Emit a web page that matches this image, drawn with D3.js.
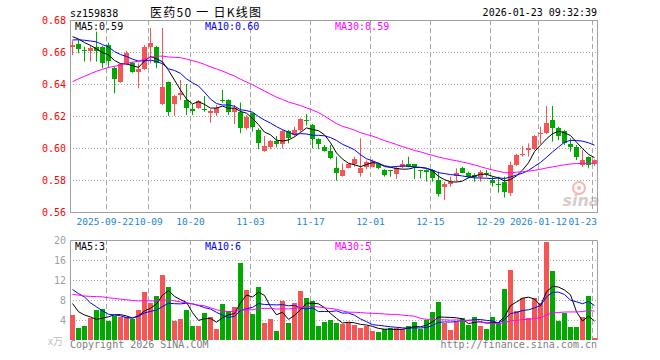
<!DOCTYPE html>
<html><head><meta charset="utf-8">
<script src="https://cdn.jsdelivr.net/npm/d3@7"></script>
<style>html,body{margin:0;padding:0;background:#fff;}svg{display:block;}</style>
</head><body><svg id="c" width="660" height="360"></svg>
<script>
const dates = [
"2025-09-12","2025-09-15","2025-09-16","2025-09-17","2025-09-18","2025-09-19","2025-09-22","2025-09-23","2025-09-24","2025-09-25","2025-09-26","2025-09-29","2025-09-30",
"2025-10-09","2025-10-10","2025-10-13","2025-10-14","2025-10-15","2025-10-16","2025-10-17","2025-10-20","2025-10-21","2025-10-22","2025-10-23","2025-10-24","2025-10-27","2025-10-28","2025-10-29","2025-10-30","2025-10-31",
"2025-11-03","2025-11-04","2025-11-05","2025-11-06","2025-11-07","2025-11-10","2025-11-11","2025-11-12","2025-11-13","2025-11-14","2025-11-17","2025-11-18","2025-11-19","2025-11-20","2025-11-21","2025-11-24","2025-11-25","2025-11-26","2025-11-27","2025-11-28",
"2025-12-01","2025-12-02","2025-12-03","2025-12-04","2025-12-05","2025-12-08","2025-12-09","2025-12-10","2025-12-11","2025-12-12","2025-12-15","2025-12-16","2025-12-17","2025-12-18","2025-12-19","2025-12-22","2025-12-23","2025-12-24","2025-12-25","2025-12-26","2025-12-29","2025-12-30","2025-12-31",
"2026-01-05","2026-01-06","2026-01-07","2026-01-08","2026-01-09","2026-01-12","2026-01-13","2026-01-14","2026-01-15","2026-01-16","2026-01-19","2026-01-20","2026-01-21","2026-01-22","2026-01-23"];

const open = [0.6629,0.6648,0.6613,0.6608,0.6633,0.6629,0.6644,0.6502,0.6415,0.6523,0.6533,0.6477,0.6494,0.6633,0.6633,0.6275,0.6415,0.6275,0.6331,0.6300,
0.6244,0.6248,0.6244,0.6217,0.6217,0.6300,0.6300,0.6227,0.6227,0.6123,0.6217,0.6113,0.5983,0.6008,0.6046,0.6025,0.6106,0.6081,0.6113,0.6175,
0.6144,0.6056,0.6008,0.5983,0.5877,0.5825,0.5877,0.5898,0.5846,0.5879,0.5883,0.5898,0.5863,0.5863,0.5835,0.5879,0.5898,0.5898,0.5863,0.5863,
0.5863,0.5800,0.5754,0.5775,0.5827,0.5877,0.5842,0.5831,0.5821,0.5842,0.5800,0.5775,0.5790,0.5717,0.5894,0.5956,0.5988,0.5992,0.6088,0.6096,
0.6175,0.6123,0.6106,0.6025,0.6008,0.5894,0.5942,0.5900];
const high = [0.6671,0.6675,0.6633,0.6644,0.6727,0.6637,0.6658,0.6508,0.6529,0.6608,0.6540,0.6529,0.6644,0.6750,0.6638,0.6750,0.6415,0.6331,0.6425,0.6400,
0.6275,0.6300,0.6325,0.6242,0.6269,0.6363,0.6304,0.6269,0.6284,0.6206,0.6221,0.6123,0.6075,0.6050,0.6075,0.6113,0.6113,0.6133,0.6186,0.6213,
0.6150,0.6061,0.6019,0.6019,0.5946,0.5904,0.5904,0.5946,0.6061,0.5921,0.5929,0.5908,0.5867,0.5863,0.5883,0.5925,0.5946,0.5898,0.5863,0.5867,
0.5867,0.5852,0.5790,0.5821,0.5873,0.5883,0.5852,0.5842,0.5863,0.5863,0.5821,0.5821,0.5821,0.5915,0.5963,0.6013,0.6029,0.6081,0.6133,0.6263,
0.6263,0.6133,0.6113,0.6061,0.6019,0.5988,0.5946,0.5929];
const low = [0.6581,0.6592,0.6540,0.6540,0.6540,0.6498,0.6504,0.6342,0.6408,0.6519,0.6471,0.6373,0.6488,0.6529,0.6498,0.6269,0.6200,0.6200,0.6300,0.6206,
0.6206,0.6244,0.6227,0.6158,0.6200,0.6284,0.6206,0.6150,0.6092,0.6113,0.6102,0.5992,0.5977,0.5992,0.6004,0.5998,0.6029,0.6071,0.6102,0.6140,
0.5998,0.5992,0.5977,0.5929,0.5796,0.5821,0.5873,0.5883,0.5821,0.5867,0.5879,0.5867,0.5821,0.5821,0.5806,0.5873,0.5879,0.5806,0.5810,0.5790,
0.5790,0.5696,0.5675,0.5758,0.5790,0.5842,0.5810,0.5790,0.5790,0.5821,0.5758,0.5721,0.5690,0.5700,0.5888,0.5946,0.5946,0.5988,0.6025,0.6088,
0.6040,0.6050,0.6019,0.5977,0.5925,0.5883,0.5873,0.5888];
const close = [0.6644,0.6617,0.6606,0.6623,0.6606,0.6529,0.6546,0.6431,0.6523,0.6596,0.6477,0.6492,0.6633,0.6658,0.6529,0.6383,0.6227,0.6325,0.6346,0.6248,
0.6233,0.6296,0.6238,0.6233,0.6248,0.6294,0.6227,0.6248,0.6127,0.6192,0.6133,0.6029,0.6015,0.6044,0.6025,0.6106,0.6061,0.6113,0.6181,0.6167,
0.6056,0.6025,0.5983,0.5935,0.5846,0.5863,0.5898,0.5933,0.5877,0.5913,0.5921,0.5877,0.5831,0.5854,0.5877,0.5898,0.5883,0.5879,0.5856,0.5852,
0.5815,0.5713,0.5775,0.5790,0.5842,0.5846,0.5821,0.5821,0.5852,0.5838,0.5783,0.5769,0.5727,0.5894,0.5956,0.5963,0.5998,0.6075,0.6096,0.6154,
0.6123,0.6075,0.6029,0.6008,0.5946,0.5925,0.5894,0.5925];
const volume = [5.0,2.4,2.8,4.4,6.0,6.2,3.8,4.8,4.6,4.6,4.2,6.0,9.6,7.4,8.8,13.0,10.6,3.8,4.2,6.0,
2.8,2.8,5.4,4.6,2.2,7.2,5.8,6.6,15.4,10.0,5.2,10.6,3.4,4.2,1.8,7.8,3.4,7.4,9.8,8.4,
7.8,2.8,3.6,4.0,3.4,3.2,3.6,3.0,2.4,2.8,1.8,1.6,2.2,2.4,2.4,2.2,2.8,3.6,2.2,4.0,
5.6,7.6,3.4,2.0,3.6,4.4,3.0,4.6,2.8,2.2,4.6,3.4,10.2,14.0,5.8,8.4,4.4,8.4,7.4,19.6,
13.8,3.8,5.4,2.6,2.6,4.6,8.8,0.4];
// sessions before the visible window (only feed the moving averages)
const priorClose = [0.610,0.612,0.615,0.614,0.616,0.619,0.623,0.627,0.630,0.626,0.629,0.627,0.630,
0.632,0.636,0.640,0.638,0.643,0.648,0.6546,0.660,0.664,0.667,0.666,0.670,0.669,0.672,0.671,0.6716];
const priorVolume = [7.0,8.2,6.8,7.4,7.4,9.6,8.4,9.2,8.6,8.0,9.0,7.6,8.8,9.4,8.2,8.6,
9.8,11.2,10.4,9.4,10.6,9.6,16.2,13.9,14.2,10.6,6.1,6.4,8.4];

const tickDates = ["2025-09-22","2025-10-09","2025-10-20","2025-11-03","2025-11-17","2025-12-01","2025-12-15","2025-12-29","2026-01-12","2026-01-23"];
const tickLabels = ["2025-09-22","10-09","10-20","11-03","11-17","12-01","12-15","12-29","2026-01-12","01-23"];
const priceTicks = [0.56,0.58,0.60,0.62,0.64,0.66,0.68];
const volTicks = [4,8,12,16,20];
const maPeriods = [5,10,30];
const maColors = ["#000000","#0000ff","#ff00ff"];

const svg = d3.select("#c");
const FONT = "DejaVu Sans Mono, monospace";
const L = 70, R = 597;
const pTop = 20, pBot = 212, vTop = 240, vBot = 340;
const UP = "#f65555", DOWN = "#00a800", GRID = "#a8a8a8", BORDER = "#a0a0a0";

const x = d3.scaleBand().domain(dates).range([69.5, 597.5]).paddingInner(1/6).paddingOuter(1/12);
const bw = x.bandwidth();
const cx = d => x(d) + bw / 2;
const yP = d3.scaleLinear().domain([0.56, 0.68]).range([pBot, pTop]);
const yV = d3.scaleLinear().domain([0, 20]).range([vBot, vTop]);

function movingAvg(prior, vals, n) {
  const all = prior.concat(vals), off = prior.length;
  return vals.map((v, i) => d3.mean(all.slice(off + i - n + 1, off + i + 1)));
}
const priceMA = maPeriods.map(n => movingAvg(priorClose, close, n));
const volMA = maPeriods.map(n => movingAvg(priorVolume, volume, n));

// ---- grids
const g = svg.append("g");
g.selectAll(".hp").data(priceTicks.filter(t => t > 0.561 && t < 0.679)).enter().append("line")
  .attr("x1", L).attr("x2", R).attr("y1", d => Math.round(yP(d)) + 0.5).attr("y2", d => Math.round(yP(d)) + 0.5)
  .attr("stroke", GRID).attr("stroke-dasharray", "1,2");
g.selectAll(".hv").data(volTicks.filter(t => t < 20)).enter().append("line")
  .attr("x1", L).attr("x2", R).attr("y1", d => Math.round(yV(d)) + 0.5).attr("y2", d => Math.round(yV(d)) + 0.5)
  .attr("stroke", GRID).attr("stroke-dasharray", "1,2");
[[pTop, pBot], [vTop, vBot]].forEach(([a, b]) => {
  g.selectAll(null).data(tickDates).enter().append("line")
    .attr("x1", d => x(d) + 0.5).attr("x2", d => x(d) + 0.5).attr("y1", a).attr("y2", b)
    .attr("stroke", GRID).attr("stroke-dasharray", "5,3");
});

// ---- borders
const bd = svg.append("g").attr("stroke", BORDER).attr("fill", "none");
bd.append("rect").attr("x", L + 0.5).attr("y", pTop + 0.5).attr("width", R - L).attr("height", pBot - pTop);
bd.append("path").attr("d", `M${L + 0.5},${vBot}V${vTop + 0.5}H${R + 0.5}V${vBot}`);

// ---- sina watermark (behind marks)
const wm = svg.append("g").attr("opacity", 0.5);
wm.append("circle").attr("cx", 579).attr("cy", 188).attr("r", 6).attr("fill", "none").attr("stroke", "#f07070").attr("stroke-width", 2);
wm.append("circle").attr("cx", 579).attr("cy", 188).attr("r", 2).attr("fill", "#f07070");
wm.append("text").attr("x", 581).attr("y", 206).attr("text-anchor", "middle").attr("font-family", "DejaVu Sans")
  .attr("font-style", "italic").attr("font-weight", "bold").attr("font-size", 16).attr("fill", "#b09a9a").text("sina");

// ---- candles
const cg = svg.append("g");
dates.forEach((d, i) => {
  const up = close[i] >= open[i];
  const col = up ? UP : DOWN;
  const xc = Math.floor(cx(d)) + 0.5;
  cg.append("line").attr("x1", xc).attr("x2", xc).attr("y1", yP(high[i])).attr("y2", yP(low[i])).attr("stroke", col);
  const yt = Math.round(yP(Math.max(open[i], close[i])));
  const yb = Math.round(yP(Math.min(open[i], close[i])));
  cg.append("rect").attr("x", x(d)).attr("width", bw).attr("y", yt).attr("height", Math.max(1, yb - yt)).attr("fill", col);
});
// ---- volume bars
svg.append("g").selectAll("rect").data(dates).enter().append("rect")
  .attr("x", d => x(d)).attr("width", bw)
  .attr("y", (d, i) => Math.round(yV(volume[i]))).attr("height", (d, i) => vBot - Math.round(yV(volume[i])))
  .attr("fill", (d, i) => close[i] >= open[i] ? UP : DOWN);

// ---- moving averages
maPeriods.forEach((n, k) => {
  svg.append("path").datum(priceMA[k])
    .attr("d", d3.line().x((v, i) => cx(dates[i])).y(v => yP(v)))
    .attr("fill", "none").attr("stroke", maColors[k]).attr("stroke-width", 1);
  svg.append("path").datum(volMA[k])
    .attr("d", d3.line().x((v, i) => cx(dates[i])).y(v => yV(v)))
    .attr("fill", "none").attr("stroke", maColors[k]).attr("stroke-width", 1);
});

// ---- axis labels
const tx = svg.append("g").attr("font-family", FONT).attr("font-size", 10);
tx.selectAll(".pl").data(priceTicks).enter().append("text")
  .attr("x", 66).attr("y", d => yP(d) + 4).attr("text-anchor", "end").attr("fill", "#ff0000")
  .text(d => d.toFixed(2));
tx.selectAll(".vl").data(volTicks).enter().append("text")
  .attr("x", 66).attr("y", d => yV(d) + 4).attr("text-anchor", "end").attr("fill", "#a0a0a0")
  .text(d => d);
tx.append("text").attr("x", 63).attr("y", 345).attr("text-anchor", "end").attr("fill", "#c0c0c0")
  .attr("font-family", "Noto Sans CJK SC").attr("font-size", 10).text("x万");

// date labels: centred on their gridline, kept inside the frame and apart from each other
const DFS = 9.5, CW = DFS * 0.602;
const lab = tickDates.map((d, i) => {
  const w = tickLabels[i].length * CW;
  let s = x(d) + 0.5 - w / 2;
  if (s + w > R) s = R - w;
  return { s, w, t: tickLabels[i] };
});
for (let i = 1; i < lab.length; i++) {
  const over = lab[i - 1].s + lab[i - 1].w + 0.5 - lab[i].s;
  if (over > 0) lab[i - 1].s -= over;
}
tx.selectAll(".dl").data(lab).enter().append("text")
  .attr("x", d => d.s).attr("y", 225).attr("font-size", DFS).attr("fill", "#1a86d8").text(d => d.t);

// ---- MA legends
const lastP = priceMA.map(a => a[a.length - 1]);
const lastV = volMA.map(a => a[a.length - 1]);
const legX = [75, 205, 335];
maPeriods.forEach((n, k) => {
  tx.append("text").attr("x", legX[k]).attr("y", 29.5).attr("fill", maColors[k]).text(`MA${n}:${lastP[k].toFixed(2)}`);
  tx.append("text").attr("x", legX[k]).attr("y", 249.5).attr("fill", maColors[k]).text(`MA${n}:${Math.floor(lastV[k])}`);
});

// ---- header & footer
tx.append("text").attr("x", 70).attr("y", 16.5).attr("fill", "#000").text("sz159838");
svg.append("text").attr("x", 150).attr("y", 17).attr("font-family", "Noto Sans CJK SC")
  .attr("font-size", 12).attr("fill", "#000").attr("textLength", 111).attr("lengthAdjust", "spacing")
  .text("医药50 一 日K线图");
tx.append("text").attr("x", 597).attr("y", 16).attr("text-anchor", "end").attr("fill", "#000").text("2026-01-23 09:32:39");
tx.append("text").attr("x", 70).attr("y", 348).attr("fill", "#808080").text("Copyright 2026 SINA.COM");
tx.append("text").attr("x", 597).attr("y", 348).attr("text-anchor", "end").attr("fill", "#808080").text("http://finance.sina.com.cn");
</script></body></html>
